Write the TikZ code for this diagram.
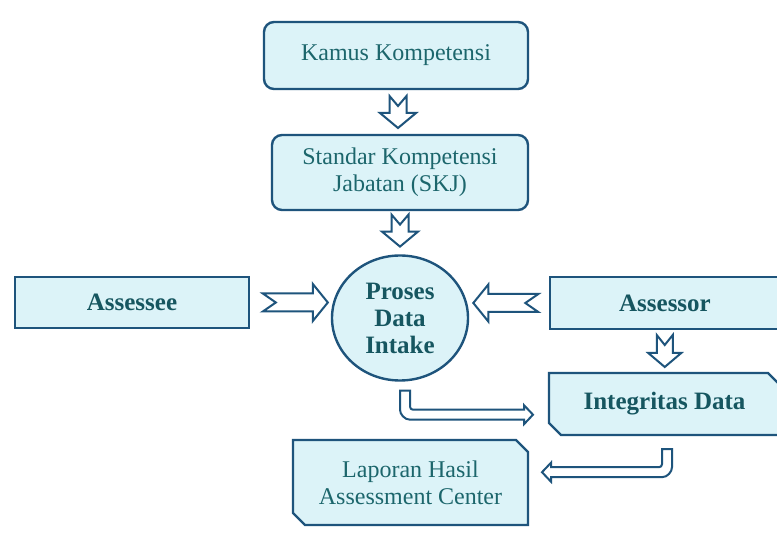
\documentclass[tikz,border=0pt]{standalone}
\usepackage{fontspec}
\setmainfont{Liberation Serif}
\usetikzlibrary{calc,shapes.geometric,shapes.misc}

\definecolor{edgeblue}{RGB}{30,84,124}
\definecolor{boxfill}{RGB}{220,243,248}
\definecolor{labelteal}{RGB}{28,102,108}
\definecolor{boldteal}{RGB}{22,86,96}

\tikzset{
  box/.style={draw=edgeblue, fill=boxfill, line width=2.4pt, text=labelteal,
    font=\fontsize{24}{27}\selectfont, align=center, inner sep=0pt},
  roundbox/.style={box, rounded corners=10pt},
  plainbox/.style={box, text=boldteal, font=\fontsize{25}{27}\selectfont\bfseries},
  cutbox/.style={box, chamfered rectangle,
    chamfered rectangle corners={north east,south west},
    chamfered rectangle xsep=6pt, chamfered rectangle ysep=6pt},
  hollow/.style={draw=edgeblue, fill=white, line width=2pt, line join=miter},
  % notched block arrow pointing along +x, centred on the origin:
  % {length}{head width}{shaft width}{head length}{notch depth}
  pics/blockarrow/.style n args={5}{code={
    \path[hollow] (-#1/2,-#3/2) -- (#1/2-#4,-#3/2) -- (#1/2-#4,-#2/2) -- (#1/2,0)
      -- (#1/2-#4,#2/2) -- (#1/2-#4,#3/2) -- (-#1/2,#3/2) -- (-#1/2+#5,0) -- cycle;
  }},
  % hollow L-shaped arrow: stem goes down from the origin, then turns right
  % {drop to band centre}{run to the tip}
  pics/uarrow/.style n args={2}{code={
    \path[hollow] (-5,0) -- (5,0) -- (5,#1-8)
      .. controls (5,#1-6.34) and (6.34,#1-5) .. (8,#1-5)
      -- (#2-9,#1-5) -- (#2-9,#1-9.5) -- (#2,#1) -- (#2-9,#1+9.5) -- (#2-9,#1+5)
      -- (5,#1+5) .. controls (-0.52,#1+5) and (-5,#1-0.52) .. (-5,#1-5) -- cycle;
  }}
}

\begin{document}
\begin{tikzpicture}[x=1pt, y=-1pt]
  \fill[white] (0,0) rectangle (777,534);
  \useasboundingbox (0,0) rectangle (777,534);

  % boxes
  \node[roundbox, minimum width=264pt, minimum height=67pt] (kamus) at (396,55.5) {Kamus Kompetensi};
  \node[roundbox, minimum width=256pt, minimum height=75pt] (skj) at (400,172.5) {Standar Kompetensi\\Jabatan (SKJ)};
  \node[box, ellipse, minimum width=136pt, minimum height=125pt, text=boldteal,
        font=\fontsize{25}{27}\selectfont\bfseries] (proc) at (400,318) {Proses\\Data\\Intake};
  \node[plainbox, minimum width=234pt, minimum height=51pt] (assessee) at (132,302.5) {Assessee};
  \node[plainbox, minimum width=230pt, minimum height=52pt] (assessor) at (665,303) {Assessor};
  \node[cutbox, text=boldteal, font=\fontsize{25}{27}\selectfont\bfseries,
        minimum width=231pt, minimum height=62pt] (integ) at (664.5,404) {Integritas Data};
  \node[cutbox, minimum width=235pt, minimum height=85pt] (report) at (410.5,482.5) {Laporan Hasil\\Assessment Center};

  % block arrows between the boxes
  \pic[rotate=-90] at ($(kamus.south)!0.5!(skj.north)$) {blockarrow={32}{36}{17}{15}{10}};
  \pic[rotate=-90] at ($(skj.south)!0.45!(proc.north)$) {blockarrow={32}{36}{17}{15}{10}};
  \pic at ($(assessee.east)!0.56!(assessee.east -| proc.west)$) {blockarrow={65}{37}{18}{15}{13}};
  \pic[rotate=180] at ($(assessor.west)!0.54!(assessor.west -| proc.east)$) {blockarrow={65}{37}{18}{15}{13}};
  \pic[rotate=-90] at ($(assessor.south)!0.5!(integ.north)$) {blockarrow={32}{33}{16}{14}{10}};

  % bent arrows
  \pic at ($(proc.south)+(5,9)$) {uarrow={24}{128}};
  \pic[xscale=-1] at ($(integ.south)+(2.5,13)$) {uarrow={23}{125}};
\end{tikzpicture}
\end{document}
